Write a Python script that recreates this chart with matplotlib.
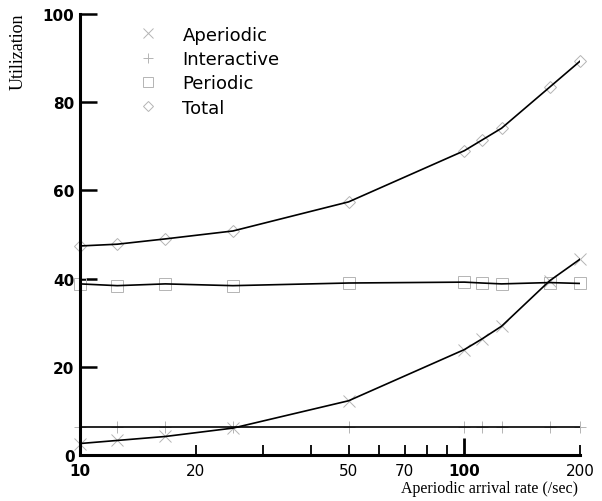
import numpy as np
import matplotlib.pyplot as plt
from matplotlib.ticker import FixedLocator, FixedFormatter

# arrival rates (/sec)
rate = [10, 12.5, 16.67, 25, 50, 100, 111.1, 125, 166.7, 200]

aperiodic   = [2.6, 3.3, 4.2, 6.1, 12.3, 23.9, 26.3, 29.2, 39.5, 44.4]
interactive = [6.3, 6.3, 6.3, 6.3, 6.3, 6.3, 6.3, 6.3, 6.3, 6.3]
periodic    = [38.8, 38.4, 38.8, 38.4, 39.0, 39.2, 39.0, 38.8, 39.1, 38.9]
total       = [47.4, 47.8, 49.0, 50.8, 57.4, 69.0, 71.4, 74.1, 83.4, 89.3]

series = [("Aperiodic", aperiodic, "x"),
          ("Interactive", interactive, "+"),
          ("Periodic", periodic, "s"),
          ("Total", total, "D")]

mk_col = "#b4b4b4"

fig = plt.figure(figsize=(6.02, 5.02), dpi=100)
ax = fig.add_axes([80/602, 46/502, 500/602, 441/502])

handles = []
for name, vals, m in series:
    ms = 6.5 if m == "D" else 8
    ax.plot(rate, vals, color="black", lw=1.2, zorder=3)
    h, = ax.plot(rate, vals, ls="none", marker=m, ms=ms, mfc="none",
                 mec=mk_col, mew=0.7, zorder=2, label=name, clip_on=False)
    handles.append(h)

ax.set_xscale("log")
ax.set_xlim(10, 200)
ax.set_ylim(0, 100)

for s in ["top", "right"]:
    ax.spines[s].set_visible(False)
for s in ["left", "bottom"]:
    ax.spines[s].set_linewidth(2.2)

ax.xaxis.set_major_locator(FixedLocator([10, 100]))
ax.xaxis.set_major_formatter(FixedFormatter(["10", "100"]))
minor = [20, 30, 40, 50, 60, 70, 80, 90, 200]
ax.xaxis.set_minor_locator(FixedLocator(minor))
ax.xaxis.set_minor_formatter(FixedFormatter(["20", "", "", "50", "", "70", "", "", "200"]))
ax.tick_params(axis="x", which="major", direction="in", length=12, width=2, pad=6,
               labelsize=11)
ax.tick_params(axis="x", which="minor", direction="in", length=7.5, width=1.3, pad=6,
               labelsize=11)
for lbl in ax.get_xticklabels(which="major"):
    lbl.set_fontweight("bold")
for lbl in ax.get_xticklabels(which="minor"):
    lbl.set_fontweight("normal")

ax.set_yticks([0, 20, 40, 60, 80, 100])
ax.tick_params(axis="y", direction="in", length=12, width=1.8, pad=4, labelsize=11)
for lbl in ax.get_yticklabels():
    lbl.set_fontweight("bold")

leg = ax.legend(handles=handles, loc="upper left", bbox_to_anchor=(0.1, 0.99),
                frameon=False, fontsize=13, handlelength=1.2, handletextpad=1.3,
                labelspacing=0.35, borderaxespad=0, markerscale=0.85)

fig.text(18/602, 1 - 52/502, "Utilization", rotation=90, ha="center", va="center",
         family="Liberation Serif", fontsize=13)
fig.text(578/602, 1 - 489/502, "Aperiodic arrival rate (/sec)", ha="right", va="center",
         family="Liberation Serif", fontsize=11.5)

fig.savefig("out.png", dpi=100)
